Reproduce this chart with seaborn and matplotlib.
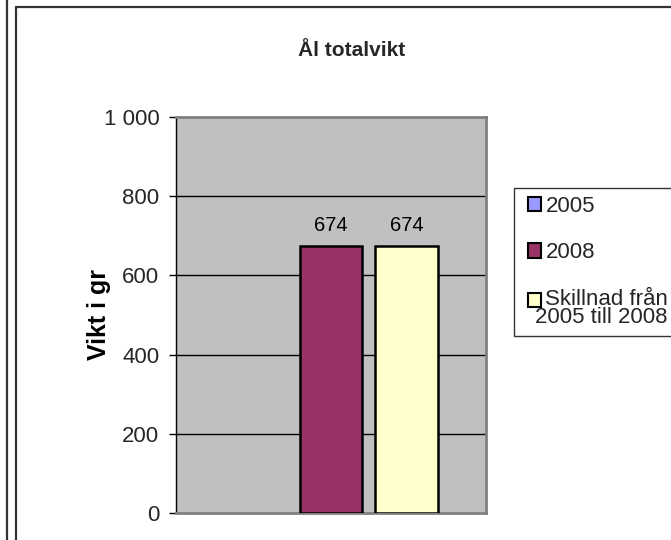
import matplotlib
matplotlib.use("Agg")
import matplotlib.pyplot as plt
import matplotlib.patches as mpatches
import matplotlib.lines as mlines
import matplotlib.transforms as mtransforms
from matplotlib.legend_handler import HandlerPatch
import seaborn as sns
import pandas as pd

# Data
categories = [""]
series = ["2005", "2008", "Skillnad från\n2005 till 2008"]
values = [0, 674, 674]
colors = ["#9999FF", "#993366", "#FFFFCC"]
yticks = [0, 200, 400, 600, 800, 1000]
ytick_labels = ["0", "200", "400", "600", "800", "1 000"]
title = "Ål totalvikt"
ylabel = "Vikt i gr"

df = pd.DataFrame({"cat": categories * len(series), "series": series, "value": values})

sns.set_theme(style="white")
plt.rcParams["font.family"] = ["Liberation Sans", "DejaVu Sans"]

W, H = 671, 540
fig = plt.figure(figsize=(W / 100, H / 100), dpi=100)
fig.patch.set_facecolor("white")

# outer frame lines
fig.add_artist(mlines.Line2D([7 / W, 7 / W], [0, 1], color="#333333", lw=1.6, transform=fig.transFigure))
fig.add_artist(mlines.Line2D([16 / W, 16 / W], [0, 1 - 7 / H], color="#333333", lw=1.6, transform=fig.transFigure))
fig.add_artist(mlines.Line2D([16 / W, 1], [1 - 7 / H, 1 - 7 / H], color="#333333", lw=1.6, transform=fig.transFigure))

left, right, top, bottom = 176, 486, 117, 513
ax = fig.add_axes([left / W, 1 - bottom / H, (right - left) / W, (bottom - top) / H])
ax.set_facecolor("#C0C0C0")

sns.barplot(data=df, x="cat", y="value", hue="series", hue_order=series,
            palette=colors, saturation=1, width=0.8, gap=0.166,
            edgecolor="black", linewidth=1.8, ax=ax, legend=False, zorder=3)

for p in ax.patches:
    if p.get_height() == 0:
        p.set_edgecolor("none")

for cont in ax.containers:
    labs = [f"{v:.0f}" if v > 0 else "" for v in cont.datavalues]
    ax.bar_label(cont, labels=labs, padding=8, fontsize=14.5, color="black")

ax.set_ylim(0, 1000)
ax.set_xlim(-0.5475, 0.5475)
ax.set_yticks(yticks)
ax.set_yticklabels(ytick_labels, fontsize=16)
ax.set_xticks([])
ax.set_xlabel("")
ax.set_ylabel(ylabel, fontsize=18, fontweight="bold", color="black")
ax.yaxis.set_label_coords(-0.21, 0.5)
ax.tick_params(axis="y", which="both", direction="out", length=5, width=1, color="black", pad=7, left=True)
for y in yticks[1:-1]:
    ax.axhline(y, color="black", lw=1, zorder=1)

ax.spines["left"].set_color("black")
ax.spines["left"].set_linewidth(1)
for s in ["top", "right", "bottom"]:
    ax.spines[s].set_color("#808080")
    ax.spines[s].set_linewidth(2)

fig.text(352 / W, 1 - 51 / H, title, ha="center", va="center", fontsize=15, fontweight="bold")


class HandlerShift(HandlerPatch):
    def __init__(self, dx=0, dy=0, **kw):
        super().__init__(**kw)
        self.dx = dx
        self.dy = dy

    def create_artists(self, legend, orig_handle, xdescent, ydescent, width, height, fontsize, trans):
        return super().create_artists(legend, orig_handle, xdescent - self.dx, ydescent - self.dy,
                                      width, height, fontsize, trans)


handles = [mpatches.Patch(facecolor=c, edgecolor="black", linewidth=1.5) for c in colors]
hmap = {handles[0]: HandlerShift(dx=4.5), handles[1]: HandlerShift(dx=4.5),
        handles[2]: HandlerShift(dx=4.5, dy=6.5)}
leg = fig.legend(handles, series, loc="upper left", bbox_to_anchor=(514 / W, 1 - 188 / H),
                 bbox_transform=fig.transFigure, borderaxespad=0, fontsize=16,
                 frameon=True, fancybox=False, edgecolor="black", handlelength=0.6,
                 handleheight=0.6, handletextpad=0.5, labelspacing=1.15, borderpad=0.35,
                 handler_map=hmap)
leg.get_frame().set_linewidth(1)
t3 = leg.get_texts()[2]
t3.set_multialignment("right")
t3.set_linespacing(0.85)
t3.set_transform(t3.get_transform() + mtransforms.Affine2D().translate(-11, 0))

fig.savefig("out.png", dpi=100)
